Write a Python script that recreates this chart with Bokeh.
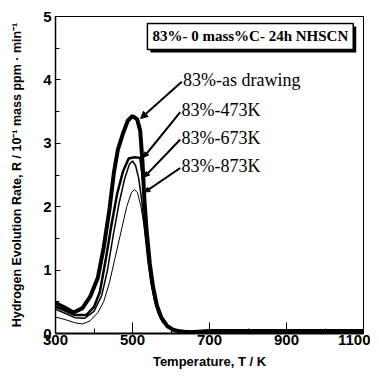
from bokeh.plotting import figure
from bokeh.models import FixedTicker, Arrow, NormalHead, Label, ColumnDataSource, Range1d
from bokeh.core.properties import value
from bokeh.embed import file_html
from bokeh.resources import INLINE

# ---- data ----
T_draw = [300, 320, 347, 370, 390, 410, 425, 440, 452, 462, 475, 488, 500, 512, 520, 526, 531, 537, 545, 553, 563, 575, 590, 605, 625, 650, 700, 800, 900, 1000, 1100]
R_draw = [0.48, 0.42, 0.33, 0.40, 0.58, 0.88, 1.35, 1.95, 2.55, 2.90, 3.15, 3.36, 3.43, 3.38, 3.20, 2.70, 2.10, 1.60, 1.10, 0.75, 0.45, 0.25, 0.12, 0.06, 0.03, 0.02, 0.04, 0.04, 0.04, 0.04, 0.04]

T_473 = [300, 325, 350, 380, 400, 415, 430, 445, 460, 475, 490, 505, 520, 527, 533, 540, 548, 556, 566, 578, 592, 610, 640, 700, 1100]
R_473 = [0.42, 0.36, 0.29, 0.29, 0.42, 0.65, 1.15, 1.70, 2.20, 2.55, 2.76, 2.78, 2.77, 2.45, 1.90, 1.35, 0.90, 0.62, 0.38, 0.21, 0.10, 0.05, 0.03, 0.03, 0.03]

T_673 = [300, 325, 350, 375, 400, 420, 435, 450, 465, 480, 492, 500, 508, 516, 524, 532, 540, 548, 556, 566, 578, 592, 610, 640, 1100]
R_673 = [0.38, 0.32, 0.25, 0.24, 0.35, 0.60, 1.00, 1.55, 2.05, 2.45, 2.67, 2.72, 2.65, 2.45, 2.10, 1.60, 1.15, 0.80, 0.55, 0.33, 0.18, 0.09, 0.04, 0.03, 0.03]

T_873 = [300, 325, 350, 370, 390, 410, 425, 440, 455, 470, 485, 497, 505, 513, 522, 530, 540, 550, 560, 572, 585, 600, 620, 650, 1100]
R_873 = [0.26, 0.22, 0.17, 0.15, 0.20, 0.33, 0.50, 0.80, 1.20, 1.60, 2.00, 2.22, 2.27, 2.22, 2.00, 1.70, 1.25, 0.85, 0.55, 0.32, 0.16, 0.07, 0.03, 0.02, 0.02]

series_labels = ["83%-as drawing", "83%-473K", "83%-673K", "83%-873K"]
label_T = [631, 627, 627, 627]
label_R = [4.00, 3.52, 3.09, 2.64]
arrow_T_end = [521, 529, 531, 532]
arrow_R_end = [3.39, 2.78, 2.47, 2.23]

x_ticks = [300, 500, 700, 900, 1100]
x_minor = [400, 600, 800, 1000]
y_ticks = [0, 1, 2, 3, 4, 5]
y_minor = [0.5, 1.5, 2.5, 3.5, 4.5]

title_text = "83%- 0 mass%C- 24h NHSCN"

p = figure(width=370, height=373, output_backend="svg", toolbar_location=None,
           x_range=Range1d(300, 1100), y_range=Range1d(0, 5),
           min_border_left=55, min_border_right=7, min_border_top=16, min_border_bottom=40)

p.xgrid.visible = False
p.ygrid.visible = False
p.outline_line_color = "black"
p.outline_line_width = 1

for ax in (p.xaxis[0], p.yaxis[0]):
    ax.major_label_text_font = "Liberation Sans"
    ax.major_label_text_font_style = "bold"
    ax.major_label_text_font_size = "15px"
    ax.major_label_text_color = "black"
    ax.axis_label_text_font = "Liberation Sans"
    ax.axis_label_text_font_style = "bold"
    ax.axis_label_text_color = "black"
    ax.axis_line_color = "black"
    ax.major_tick_line_color = "black"
    ax.minor_tick_line_color = "black"
    ax.major_tick_out = 0
    ax.minor_tick_out = 0

p.xaxis.axis_label_text_font_size = "13px"
p.yaxis.axis_label_text_font_size = "12.5px"
p.xaxis.ticker = FixedTicker(ticks=x_ticks, minor_ticks=x_minor)
p.yaxis.ticker = FixedTicker(ticks=y_ticks, minor_ticks=y_minor)
p.xaxis.major_tick_in = 11
p.xaxis.minor_tick_in = 5
p.yaxis.major_tick_in = 5
p.yaxis.minor_tick_in = 4
p.xaxis.axis_line_width = 2
p.yaxis.axis_line_width = 1.5
p.xaxis.major_label_standoff = 1
p.yaxis.major_label_standoff = 4
p.xaxis.axis_label = "Temperature, T / K"
p.yaxis.axis_label = "Hydrogen Evolution Rate, R / 10\u207b\u00b9 mass ppm \u00b7 min\u207b\u00b9"
p.xaxis.axis_label_standoff = 6
p.yaxis.axis_label_standoff = 16

# curves
p.line(T_873, R_873, line_color="black", line_width=1)
p.line(T_673, R_673, line_color="black", line_width=1.5)
p.line(T_473, R_473, line_color="black", line_width=2.5)
p.line(T_draw, R_draw, line_color="black", line_width=4)

# leader arrows
for i in range(len(series_labels)):
    p.add_layout(Arrow(end=NormalHead(size=7 if i == 0 else 5, fill_color="black", line_color="black"),
                       x_start=label_T[i] - 3, y_start=label_R[i] - 0.03,
                       x_end=arrow_T_end[i], y_end=arrow_R_end[i],
                       line_color="black", line_width=2))

src = ColumnDataSource(dict(x=label_T, y=label_R, t=series_labels))
p.text(x="x", y="y", text="t", source=src, text_font=value("Liberation Serif"),
       text_font_size="18px", text_baseline="middle", text_align="left", text_color="black")

# title box with shadow
shadow = Label(x=806, y=4.685, text=title_text, text_align="center", text_baseline="middle",
               text_font="Liberation Serif", text_font_style="bold", text_font_size="15px",
               text_color="black", background_fill_color="black", padding=5,
               x_offset=3, y_offset=-3)
box = Label(x=806, y=4.685, text=title_text, text_align="center", text_baseline="middle",
            text_font="Liberation Serif", text_font_style="bold", text_font_size="15px",
            text_color="black", background_fill_color="white",
            border_line_color="black", border_line_width=1.5, padding=5)
p.add_layout(shadow)
p.add_layout(box)

open("out.html", "w").write(file_html(p, INLINE))
